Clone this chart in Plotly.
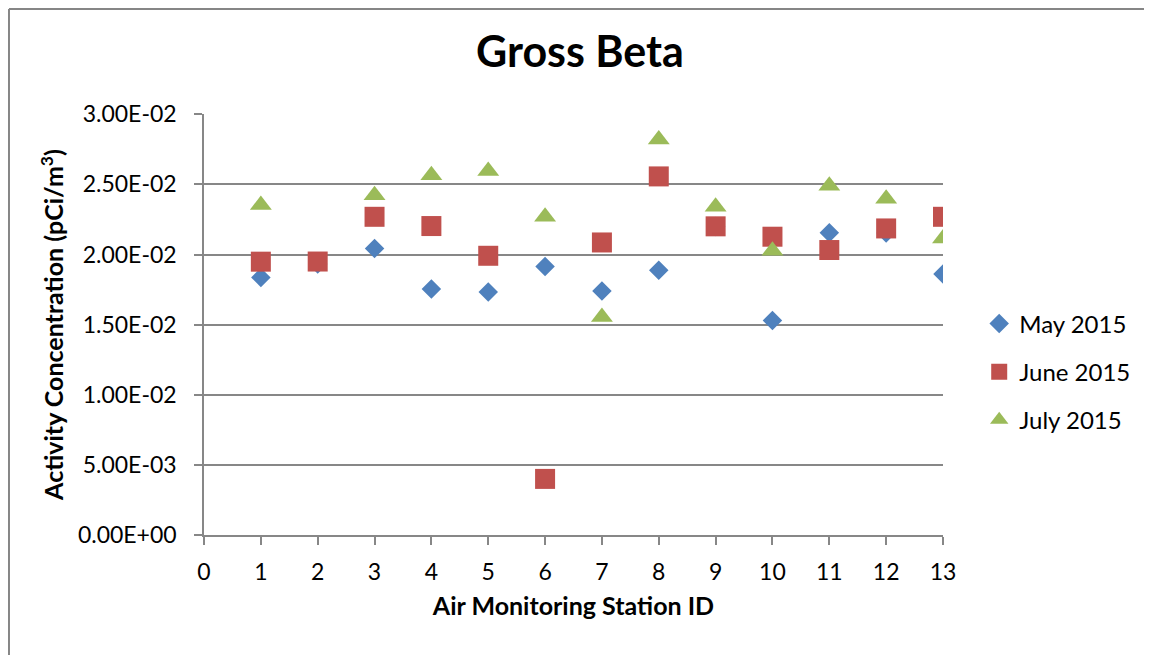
import plotly.graph_objects as go

stations = list(range(1, 14))
may_2015 = [0.01837, 0.01932, 0.02043, 0.01754, 0.01732, 0.01915, 0.01740,
            0.01887, 0.02200, 0.01529, 0.02155, 0.02153, 0.01861]
june_2015 = [0.01949, 0.01950, 0.02269, 0.02203, 0.01991, 0.00400, 0.02086,
             0.02557, 0.02201, 0.02127, 0.02032, 0.02186, 0.02269]
july_2015 = [0.02353, None, 0.02423, 0.02565, 0.02596, 0.02270, 0.01555,
             0.02821, 0.02340, 0.02027, 0.02491, 0.02397, 0.02114]

y_ticks = [0.0, 0.005, 0.01, 0.015, 0.02, 0.025, 0.03]
y_labels = [f"{v:.2E}" for v in y_ticks]
x_ticks = list(range(0, 14))

FONT = "Lato, 'Open Sans', sans-serif"
GRID = "#878787"

series = [
    ("May 2015", may_2015, "diamond", 15, "#4F81BD"),
    ("June 2015", june_2015, "square", 20, "#C0504D"),
    ("July 2015", july_2015, "triangle-up", 19, "#9BBB59"),
]

fig = go.Figure()
for name, vals, sym, size, color in series:
    fig.add_trace(go.Scatter(
        x=stations, y=vals, mode="markers", name=name, legendgroup=name,
        marker=dict(symbol=sym, size=size, color=color, line=dict(width=0)),
    ))

# page body has an 8px margin, so the figure is a bit smaller than the window
fig.update_layout(
    width=1144, height=647,
    margin=dict(l=196, r=209, t=106, b=120),
    paper_bgcolor="white", plot_bgcolor="white",
    font=dict(family=FONT, color="black", size=23),
    title=dict(text="<b>Gross Beta</b>", x=0.5, xref="container", xanchor="center",
               y=0.932, yref="container", yanchor="middle",
               font=dict(size=43, family=FONT, color="black")),
    legend=dict(x=1.049, y=0.555, xanchor="left", yanchor="top",
                font=dict(size=24), tracegroupgap=14, itemwidth=30,
                bgcolor="rgba(0,0,0,0)"),
    showlegend=True,
    shapes=[
        dict(type="line", xref="paper", yref="paper", x0=-0.2639, x1=1.3,
             y0=1.2494, y1=1.2494, line=dict(color="#868686", width=2)),
        dict(type="line", xref="paper", yref="paper", x0=-0.2639, x1=-0.2639,
             y0=-0.3, y1=1.2494, line=dict(color="#868686", width=2)),
    ],
)

fig.update_xaxes(
    range=[0, 13], tickvals=x_ticks, ticktext=[str(v) for v in x_ticks],
    showgrid=False, zeroline=False, showline=True, linecolor=GRID, linewidth=1.5,
    ticks="outside", ticklen=8, tickcolor=GRID, tickwidth=1.5,
    tickfont=dict(size=23), ticklabelstandoff=8,
    title=dict(text="<b>Air Monitoring Station ID</b>", font=dict(size=25), standoff=13),
)
fig.update_yaxes(
    range=[0, 0.03002], tickvals=y_ticks, ticktext=y_labels,
    showgrid=True, gridcolor=GRID, gridwidth=1.5, zeroline=False,
    showline=True, linecolor=GRID, linewidth=1.5,
    ticks="outside", ticklen=8, tickcolor=GRID, tickwidth=1.5,
    tickfont=dict(size=23), ticklabelstandoff=13,
    title=dict(text="<b>Activity Concentration (pCi/m<sup>3</sup>)</b>",
               font=dict(size=25), standoff=7),
)

fig.write_html("out.html")
